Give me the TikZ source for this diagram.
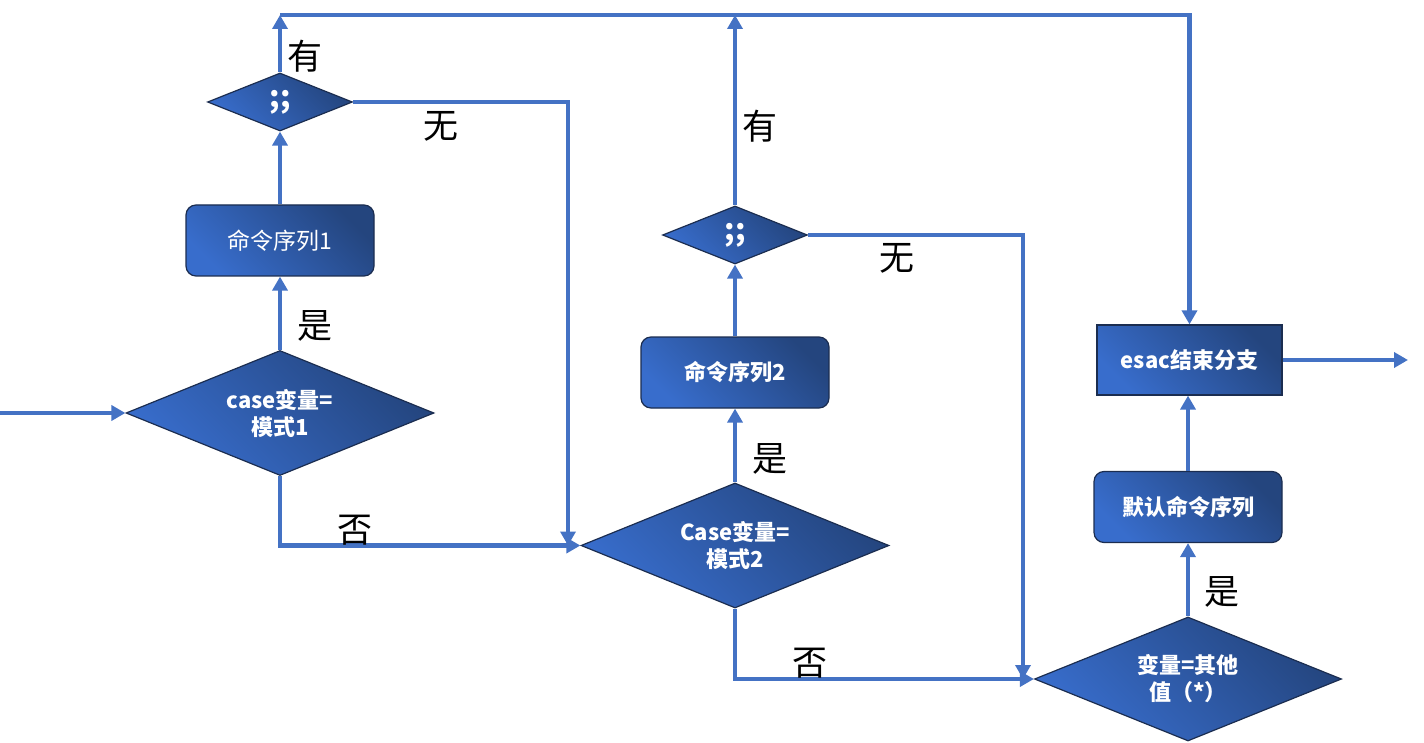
\documentclass[tikz,border=0pt]{standalone}
\usepackage{fontspec}
\setmainfont{Noto Sans CJK SC}
\usetikzlibrary{shapes.geometric,arrows.meta}
\definecolor{ln}{HTML}{4472C4}
\definecolor{fdark}{HTML}{24457E}
\definecolor{flight}{HTML}{386DCC}
\definecolor{bd}{HTML}{1B2D50}
\begin{document}
\begin{tikzpicture}[x=1pt,y=-1pt,
  fillgrad/.style={top color=fdark, bottom color=flight, shading angle=-45, draw=bd, line width=1.2pt},
  dia/.style={diamond, shape aspect=2.5, fillgrad, inner sep=0pt, text=white, align=center,
    font=\bfseries\fontsize{22}{27}\selectfont},
  bigdia/.style={dia, minimum width=308pt, minimum height=125pt},
  semi/.style={dia, minimum width=145pt, minimum height=58pt, font=\bfseries\fontsize{30}{30}\selectfont},
  box/.style={rectangle, rounded corners=10pt, fillgrad, minimum width=188pt, minimum height=71pt,
    text=white, font=\bfseries\fontsize{22}{26}\selectfont},
  arr/.style={draw=ln, line width=4.4pt, -{Triangle[length=14pt,width=15pt]}},
  lbl/.style={font=\fontsize{35}{38}\selectfont, text=black, inner sep=0pt}
]
\useasboundingbox (0,0) rectangle (1424,743);

% nodes
\node[bigdia] (d1) at (280,413) {case变量=\\模式1};
\node[box, font=\fontsize{23}{26}\selectfont] (b1) at (280,240.5) {命令序列1};
\node[semi] (s1) at (280,102) {;;};
\node[bigdia] (d2) at (735,545.5) {Case变量=\\模式2};
\node[box] (b2) at (735,372.5) {命令序列2};
\node[semi] (s2) at (735,235) {;;};
\node[bigdia, minimum width=307pt, minimum height=124pt] (d3) at (1188,679) {变量=其他\\值（*）};
\node[box] (bdf) at (1188,507) {默认命令序列};
\node[box, rounded corners=0pt, minimum width=185pt, minimum height=70pt] (es) at (1189.5,360) {esac结束分支};

% coordinates
\coordinate (in) at (0,413);
\coordinate (t1) at (280,15);
\coordinate (t2) at (735,15);
\coordinate (j1) at (568,545.5);
\coordinate (j2) at (1023,679);
\coordinate (out) at (1408,360);

% connectors
\draw[arr] (in) -- (d1.west);
\draw[arr] (d1.north) -- (b1.south);
\draw[arr] (b1.north) -- (s1.south);
\draw[arr] (s1.north) -- (t1);
\draw[arr] (t1) -| (es.north);
\draw[arr] (s1.east) -| (j1);
\draw[arr] (d1.south) |- (d2.west);
\draw[arr] (d2.north) -- (b2.south);
\draw[arr] (b2.north) -- (s2.south);
\draw[arr] (s2.north) -- (t2);
\draw[arr] (s2.east) -| (j2);
\draw[arr] (d2.south) |- (d3.west);
\draw[arr] (d3.north) -- (bdf.south);
\draw[arr] (bdf.north) -- (bdf.north |- es.south);
\draw[arr] (es.east) -- (out);

% labels
\node[lbl] (y1) at (315,326) {是};
\node[lbl] (h1) at (305,56) {有};
\node[lbl] (w1) at (441,126) {无};
\node[lbl] (n1) at (355,530) {否};
\node[lbl] (y2) at (770,459) {是};
\node[lbl] (h2) at (760,126) {有};
\node[lbl] (w2) at (897,258) {无};
\node[lbl] (n2) at (810,663) {否};
\node[lbl] (y3) at (1222,592) {是};
\end{tikzpicture}
\end{document}
